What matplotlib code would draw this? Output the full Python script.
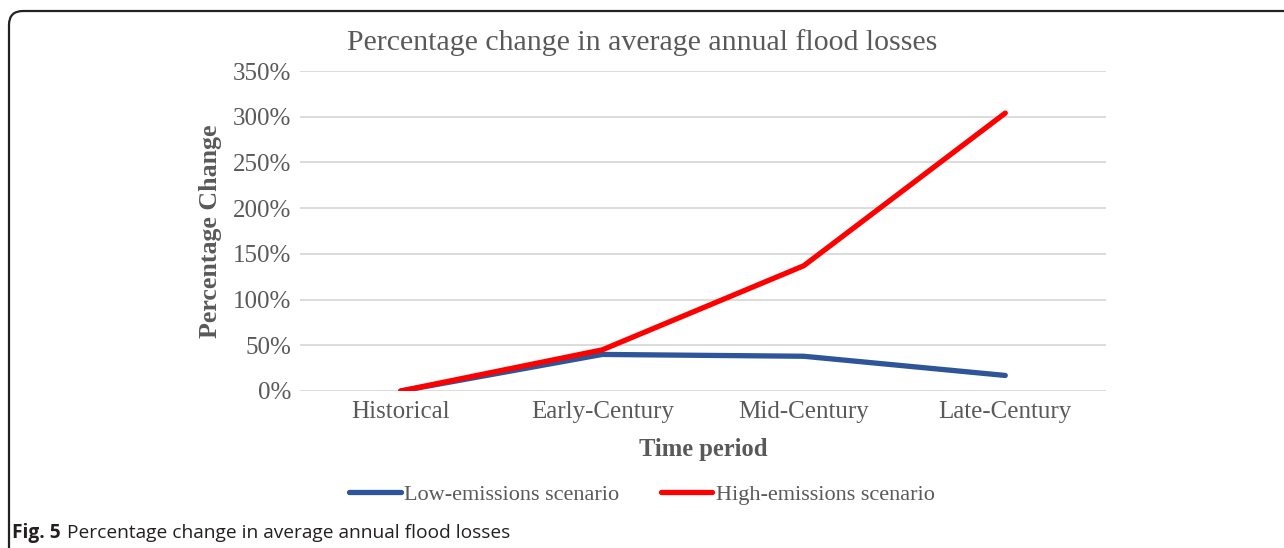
import matplotlib.pyplot as plt
from matplotlib.patches import FancyBboxPatch
from matplotlib.ticker import FuncFormatter

# Series data (percentage change relative to historical)
periods = ["Historical", "Early-Century", "Mid-Century", "Late-Century"]
low_emissions = [0, 40, 38, 17]
high_emissions = [0, 45, 137, 304]
y_ticks = [0, 50, 100, 150, 200, 250, 300, 350]

serif = "Liberation Serif"
gray = "#595959"

fig = plt.figure(figsize=(12.84, 5.48), dpi=100)
ax = fig.add_axes([0.2336, 0.2865, 0.6278, 0.5839])

x = list(range(len(periods)))
ax.plot(x, low_emissions, color="#2E5597", linewidth=3.8, solid_capstyle="round",
        label="Low-emissions scenario", zorder=3)
ax.plot(x, high_emissions, color="#FF0000", linewidth=3.8, solid_capstyle="round",
        label="High-emissions scenario", zorder=4)

ax.set_xlim(-0.5, len(periods) - 0.5)
ax.set_ylim(0, 350)
ax.set_yticks(y_ticks)
ax.yaxis.set_major_formatter(FuncFormatter(lambda v, p: f"{v:.0f}%"))
ax.set_xticks(x)
ax.set_xticklabels(periods)
ax.grid(axis="y", color="#D9D9D9", linewidth=1.3)
ax.set_axisbelow(True)
for s in ax.spines.values():
    s.set_visible(False)
ax.tick_params(length=0, labelsize=18, labelcolor=gray)
ax.tick_params(axis="y", pad=6)
ax.tick_params(axis="x", pad=7)
for lbl in ax.get_xticklabels() + ax.get_yticklabels():
    lbl.set_fontfamily(serif)

fig.text(0.5, 0.922, "Percentage change in average annual flood losses", fontsize=21.5,
         color=gray, family=serif, ha="center", va="center")
ax.set_xlabel("Time period", fontsize=17.7, fontweight="bold", color=gray,
              family=serif, labelpad=11)
ax.set_ylabel("Percentage Change", fontsize=18.6, fontweight="bold", color=gray,
              family=serif, labelpad=8)

leg = fig.legend(loc="center", bbox_to_anchor=(0.5, 0.097), ncol=2, frameon=False,
                 prop={"family": serif, "size": 16}, handlelength=2.3,
                 handletextpad=0.15, columnspacing=1.9)
for t in leg.get_texts():
    t.set_color(gray)

# caption under the chart
fig.text(12 / 1284, 0.018, "Fig. 5", fontsize=13.8, fontweight="bold", family="Open Sans",
         color="#231F20", va="baseline")
fig.text(67 / 1284, 0.018, "Percentage change in average annual flood losses", fontsize=13.8,
         family="Open Sans", color="#231F20", va="baseline")

# rounded frame along the left and top edges
frame = FancyBboxPatch((9, -40), 1320, 577, boxstyle="round,pad=0,rounding_size=14",
                       transform=None, fill=False, edgecolor="#222222", linewidth=1.6)
fig.patches.append(frame)

fig.savefig("out.png", dpi=100)
